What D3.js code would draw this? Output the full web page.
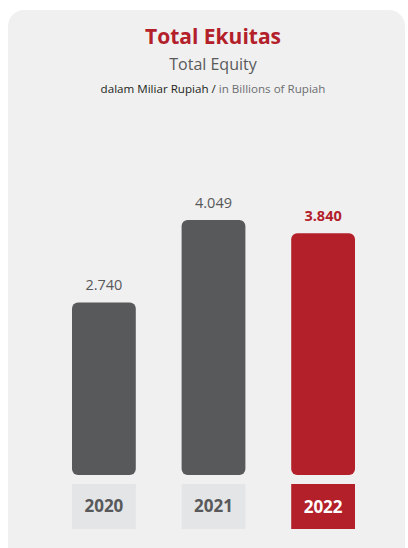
<!DOCTYPE html>
<html><head><meta charset="utf-8">
<script src="https://cdn.jsdelivr.net/npm/d3@7"></script>
<style>html,body{margin:0;padding:0;background:#fff;}svg{display:block;}</style>
</head><body>
<script>
const years = ["2020", "2021", "2022"];
const values = [2740, 4049, 3840];
const valueLabels = ["2.740", "4.049", "3.840"];
const highlightYear = "2022";

const W = 408, H = 548;
const svg = d3.select("body").append("svg").attr("width", W).attr("height", H);
const font = "'Open Sans', 'Noto Sans', sans-serif";
const red = "#b3202a", gray = "#58595b";

svg.append("rect").attr("x", 8).attr("y", 10).attr("width", 397).attr("height", 560)
  .attr("rx", 16).attr("fill", "#f0f0f0");

svg.append("text").attr("x", 213).attr("y", 44).attr("text-anchor", "middle")
  .attr("font-family", font).attr("font-weight", 700).attr("font-size", 21)
  .attr("fill", red).text("Total Ekuitas");
svg.append("text").attr("x", 213).attr("y", 70).attr("text-anchor", "middle")
  .attr("font-family", font).attr("font-size", 16).attr("fill", "#58595b").text("Total Equity");
const sub = svg.append("text").attr("x", 213).attr("y", 93).attr("text-anchor", "middle")
  .attr("font-family", font).attr("font-size", 11.6);
sub.append("tspan").attr("fill", "#231f20").text("dalam Miliar Rupiah / ");
sub.append("tspan").attr("fill", "#6d6e71").text("in Billions of Rupiah");

const x = d3.scaleBand().domain(years).range([72, 355]).paddingInner(0.418).paddingOuter(0);
const baseY = 475;
const y = d3.scaleLinear().domain([0, 4049]).range([baseY, 220]);

const data = years.map((yr, i) => ({yr, v: values[i], lab: valueLabels[i], hi: yr === highlightYear}));

svg.selectAll("rect.bar").data(data).enter().append("rect").attr("class", "bar")
  .attr("x", d => x(d.yr)).attr("width", x.bandwidth())
  .attr("y", d => y(d.v)).attr("height", d => baseY - y(d.v))
  .attr("rx", 6).attr("fill", d => d.hi ? red : gray);

svg.selectAll("text.val").data(data).enter().append("text").attr("class", "val")
  .attr("x", d => x(d.yr) + x.bandwidth() / 2).attr("y", d => y(d.v) - 12)
  .attr("text-anchor", "middle").attr("font-family", font)
  .attr("font-size", 14.5).attr("font-weight", d => d.hi ? 700 : 400)
  .attr("fill", d => d.hi ? red : "#58595b").text(d => d.lab);

svg.selectAll("rect.yb").data(data).enter().append("rect").attr("class", "yb")
  .attr("x", d => x(d.yr)).attr("width", x.bandwidth())
  .attr("y", 484).attr("height", 45).attr("fill", d => d.hi ? red : "#e4e5e7");

svg.selectAll("text.yr").data(data).enter().append("text").attr("class", "yr")
  .attr("x", d => x(d.yr) + x.bandwidth() / 2).attr("y", d => d.hi ? 513 : 512)
  .attr("text-anchor", "middle").attr("font-family", font).attr("font-weight", 700)
  .attr("font-size", 17).attr("fill", d => d.hi ? "#fff" : "#58595b").text(d => d.yr);
</script>
</body></html>
